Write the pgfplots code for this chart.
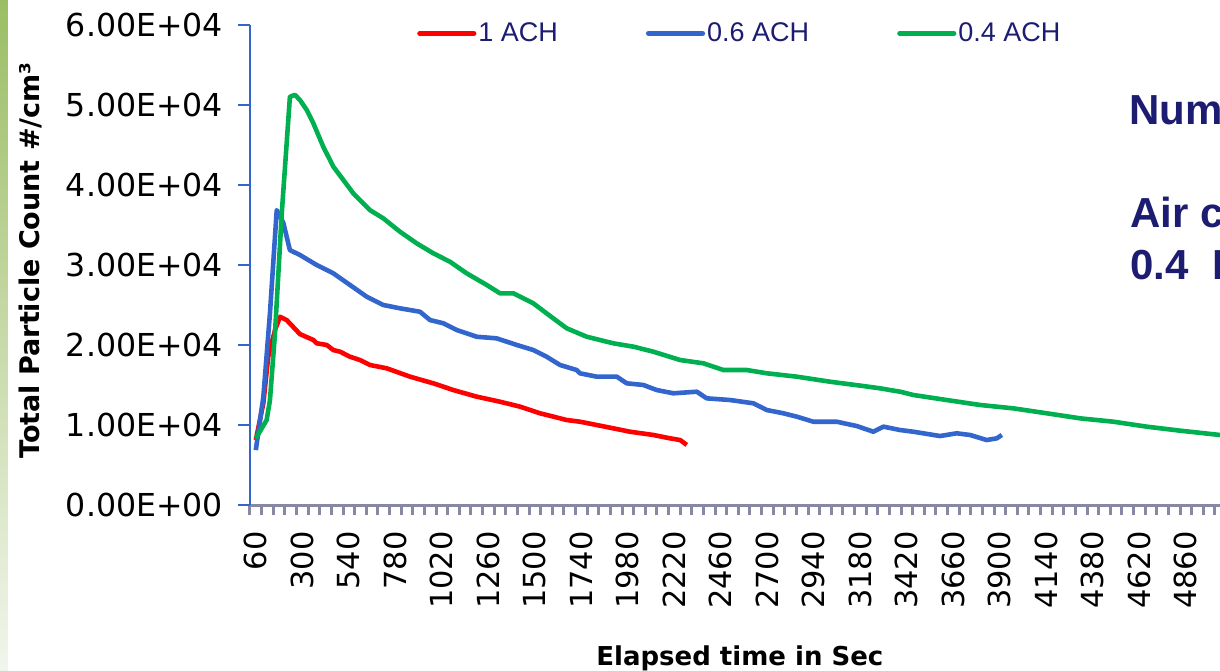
\documentclass[border=0pt]{standalone}
\usepackage{fontspec}
\setmainfont{DejaVu Sans}
\newfontfamily\arialfont{Liberation Sans}
\usepackage{pgfplots}
\pgfplotsset{compat=1.18}
\definecolor{achred}{RGB}{255,0,0}
\definecolor{achblue}{RGB}{51,102,204}
\definecolor{achgreen}{RGB}{0,176,80}
\definecolor{axisblue}{RGB}{51,102,204}
\definecolor{axisgray}{RGB}{136,136,165}
\definecolor{navy}{RGB}{28,28,112}

\begin{document}
\begin{tikzpicture}
\useasboundingbox (-125pt,-82.35pt) rectangle (485pt,252.65pt);
\clip (-125pt,-82.35pt) rectangle (485pt,252.65pt);
% slide edge
\shade[top color={rgb,255:red,155;green,190;blue,100}, bottom color={rgb,255:red,242;green,245;blue,236}]
  (-125pt,-82.35pt) rectangle (-121pt,252.65pt);
\begin{axis}[
    at={(0pt,0pt)}, anchor=south west,
    width=485pt, height=240pt, scale only axis,
    xmin=30, xmax=5036, ymin=0, ymax=60000,
    axis lines*=left,
    x axis line style={draw=axisgray, line width=1.5pt},
    y axis line style={draw=axisblue, line width=1pt},
    scaled ticks=false,
    /pgf/number format/assume math mode=true,
    /pgf/number format/1000 sep={},
    tick align=outside,
    major tick length=6pt,
    minor tick length=5pt,
    ytick={0,10000,...,60000},
    yticklabels={0.00E+00,1.00E+04,2.00E+04,3.00E+04,4.00E+04,5.00E+04,6.00E+04},
    xtick={60,300,...,4860},
    minor xtick={30,90,...,5010},
    every major x tick/.append style={draw=none},
    every minor x tick/.append style={draw=axisgray, line width=1.5pt},
    every major y tick/.append style={draw=axisblue, line width=1pt},
    yticklabel style={font=\fontsize{15.8}{18}\selectfont, xshift=-4pt},
    xticklabel style={font=\fontsize{15.2}{18}\selectfont, yshift=-3.5pt, rotate=90, anchor=east},
    xlabel={Elapsed time in Sec},
    xlabel style={font=\bfseries\fontsize{13}{15}\selectfont, at={(axis description cs:0.505,-0.3327)}, anchor=base},
    ylabel={Total Particle Count \#/cm³},
    ylabel style={font=\bfseries\fontsize{13.5}{15}\selectfont, at={(axis description cs:-0.2165,0.51)}, anchor=base},
    legend columns=3,
    legend style={draw=none, fill=none, at={(axis description cs:0.172,0.983)}, anchor=west,
        inner sep=0pt, font=\arialfont\fontsize{13.5}{16}\selectfont, text=navy,
        /tikz/every even column/.append style={column sep=43pt},
        nodes={inner sep=1pt}},
    legend image code/.code={\draw[#1, line width=2.6pt, line cap=round] (0pt,0pt) -- (27pt,0pt);},
    every axis plot/.append style={line width=2.3pt, line join=round},
]
\addplot[achred] coordinates {
    (60,8160) (99,12780) (124,18570) (159,21900) (185,23570) (219,23160)
    (288,21400) (357,20660) (374,20250) (426,20040) (460,19410) (495,19200)
    (546,18570) (598,18160) (649,17540) (736,17120) (856,16080) (976,15250)
    (1079,14410) (1200,13580) (1320,12950) (1424,12330) (1527,11500) (1665,10660)
    (1733,10450) (1819,10040) (1905,9620) (1991,9200) (2112,8790) (2198,8370)
    (2250,8160) (2284,7540)
};
\addplot[achblue] coordinates {
    (60,6900) (99,13570) (133,24000) (168,36900) (202,35300) (236,31900)
    (288,31290) (374,30040) (460,29000) (546,27540) (632,26080) (718,25040)
    (804,24620) (907,24200) (959,23160) (1028,22750) (1097,21910) (1200,21070)
    (1303,20870) (1407,20040) (1492,19410) (1561,18570) (1630,17540) (1716,16910)
    (1733,16500) (1819,16080) (1923,16080) (1974,15250) (2060,15040) (2129,14410)
    (2215,14000) (2336,14200) (2387,13370) (2508,13160) (2628,12750) (2697,11910)
    (2783,11500) (2852,11080) (2937,10450) (3058,10450) (3161,9910) (3247,9200)
    (3299,9830) (3385,9410) (3453,9200) (3591,8660) (3677,9000) (3746,8790)
    (3832,8160) (3884,8370) (3910,8790)
};
\addplot[achgreen] coordinates {
    (60,8370) (116,10660) (133,13160) (159,21500) (194,36500) (236,51070)
    (262,51300) (288,50660) (323,49400) (357,47750) (408,44830) (460,42330)
    (512,40660) (563,39000) (649,36900) (718,35870) (804,34200) (890,32750)
    (976,31500) (1062,30450) (1148,29000) (1252,27540) (1320,26500) (1389,26500)
    (1492,25250) (1595,23370) (1665,22120) (1768,21070) (1836,20660) (1905,20250)
    (2009,19830) (2112,19200) (2250,18160) (2370,17750) (2473,16910) (2594,16910)
    (2697,16500) (2852,16080) (3023,15450) (3195,14910) (3282,14620) (3385,14200)
    (3453,13790) (3626,13160) (3798,12540) (3969,12120) (4142,11500) (4314,10870)
    (4486,10450) (4658,9830) (4830,9330) (5036,8790) (5100,8600)
};
\legend{1 ACH, 0.6 ACH, 0.4 ACH}
\end{axis}
% text box of the slide, cut by the right edge as in the source
\begin{scope}[every node/.style={anchor=base west, inner sep=0pt, text=navy,
    font=\arialfont\bfseries\fontsize{21}{25}\selectfont}]
\node at (439.5pt,190.2pt) {Number concentration};
\node at (440pt,138.7pt) {Air change rate};
\node at (440pt,112.7pt) {0.4\ \ LPM};
\end{scope}
\end{tikzpicture}
\end{document}
